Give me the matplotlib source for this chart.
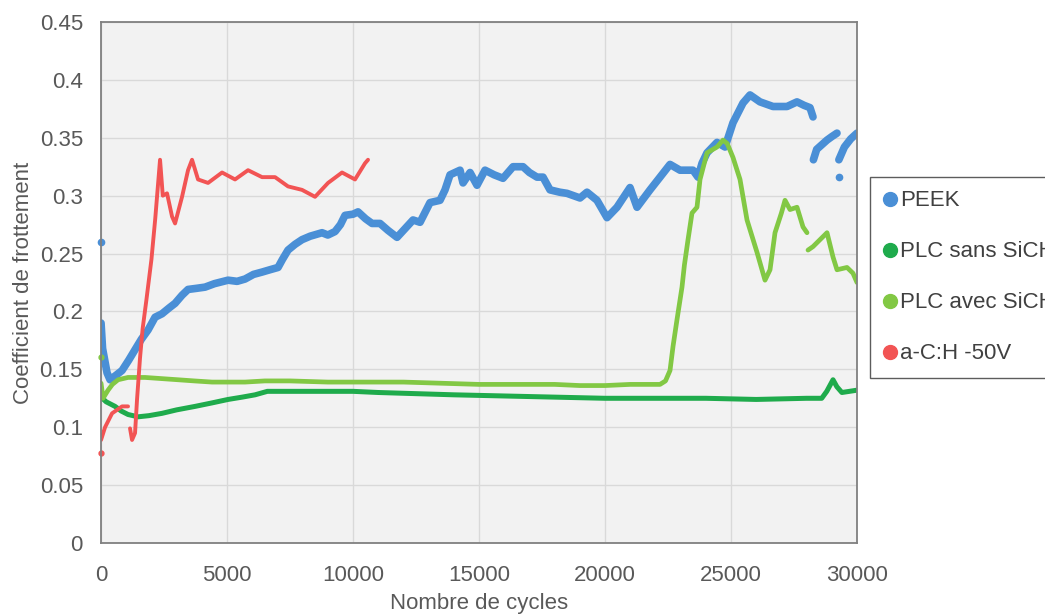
import numpy as np
import matplotlib
matplotlib.use("Agg")
import matplotlib.pyplot as plt
from matplotlib.lines import Line2D

nan = np.nan

# PEEK
peek_x = [0, 60, 238, 357, 600, 833, 1100, 1349, 1600, 1865, 2143, 2420, 2700, 2937, 3214, 3452,
          3800, 4127, 4500, 5040, 5400, 5714, 6050, 6389, 6700, 7024, 7200, 7420, 7700, 7976, 8300,
          8770, 9000, 9286, 9500, 9682, 10000, 10198, 10500, 10754, 11071, 11389, 11746, 12000,
          12381, 12659, 13055, 13452, 13650, 13849, 14246, 14365, 14643, 14920, 15238, 15600,
          15952, 16349, 16746, 17000, 17301, 17539, 17817, 18200, 18491, 19007, 19285, 19682,
          20079, 20476, 20992, 21270, 21786, 22183, 22579, 22976, 23492, 23690, 23850, 24048,
          24444, 24762, 25079, 25476, 25754, 26150, 26667, 27222, 27619, 27900, 28135, 28254,
          28260, 28270, 28400, 28810, 29000, 29206, 29250, 29280, 29500, 29750, 30000]
peek_y = [0.19, 0.168, 0.147, 0.141, 0.145, 0.149, 0.158, 0.167, 0.176, 0.184, 0.195, 0.198, 0.203,
          0.207, 0.214, 0.219, 0.220, 0.221, 0.224, 0.227, 0.226, 0.228, 0.232, 0.234, 0.236, 0.238,
          0.245, 0.253, 0.258, 0.262, 0.265, 0.268, 0.266, 0.269, 0.275, 0.283, 0.284, 0.286, 0.280,
          0.276, 0.276, 0.270, 0.264, 0.270, 0.279, 0.277, 0.294, 0.296, 0.305, 0.318, 0.322, 0.311,
          0.320, 0.309, 0.322, 0.318, 0.315, 0.325, 0.325, 0.320, 0.316, 0.316, 0.305, 0.303, 0.302,
          0.298, 0.303, 0.296, 0.281, 0.290, 0.307, 0.290, 0.305, 0.316, 0.327, 0.322, 0.322, 0.316,
          0.328, 0.337, 0.346, 0.342, 0.363, 0.380, 0.387, 0.381, 0.377, 0.377, 0.381, 0.378, 0.376,
          0.368, nan, 0.331, 0.340, 0.348, 0.351, 0.354, nan, 0.331, 0.342, 0.349, 0.354]
peek_out_x = [0, 29300]
peek_out_y = [0.26, 0.316]

# PLC sans SiCH
sans_x = [0, 200, 556, 800, 1071, 1468, 1900, 2420, 3000, 3730, 4400, 5040, 5600, 6111, 6600, 8000,
          10000, 11000, 12500, 14000, 16000, 18000, 20000, 22000, 24000, 26000, 28000, 28600,
          28800, 29048, 29200, 29400, 29700, 30000]
sans_y = [0.126, 0.122, 0.118, 0.114, 0.111, 0.109, 0.110, 0.112, 0.115, 0.118, 0.121, 0.124, 0.126,
          0.128, 0.131, 0.131, 0.131, 0.130, 0.129, 0.128, 0.127, 0.126, 0.125, 0.125, 0.125, 0.124,
          0.125, 0.125, 0.131, 0.141, 0.135, 0.130, 0.131, 0.132]

# PLC avec SiCH
avec_x = [0, 79, 278, 450, 675, 1071, 1746, 2400, 3055, 3700, 4405, 5714, 6500, 7500, 9000, 10500,
          12000, 13500, 15000, 16500, 18000, 19000, 20000, 21000, 22183, 22400, 22579, 22700, 22857,
          23055, 23150, 23294, 23452, 23650, 23770, 24048, 24444, 24682, 24850, 25079, 25357, 25635,
          26032, 26349, 26548, 26746, 27000, 27143, 27341, 27619, 27857, 28016, 28030, 28056, 28254,
          28532, 28810, 29048, 29206, 29603, 29841, 30000]
avec_y = [0.138, 0.125, 0.132, 0.137, 0.141, 0.143, 0.143, 0.142, 0.141, 0.140, 0.139, 0.139, 0.140,
          0.140, 0.139, 0.139, 0.139, 0.138, 0.137, 0.137, 0.137, 0.136, 0.136, 0.137, 0.137, 0.140,
          0.149, 0.170, 0.193, 0.221, 0.240, 0.262, 0.285, 0.290, 0.314, 0.337, 0.342, 0.348, 0.345,
          0.333, 0.314, 0.279, 0.251, 0.227, 0.236, 0.268, 0.285, 0.296, 0.288, 0.290, 0.273, 0.268,
          nan, 0.253, 0.256, 0.262, 0.268, 0.247, 0.236, 0.238, 0.233, 0.225]
avec_out_x = [0]
avec_out_y = [0.161]

# a-C:H -50V
ach_x = [0, 159, 437, 833, 1071, 1110, 1150, 1230, 1349, 1428, 1547, 1650, 1800, 2000, 2150, 2341,
         2450, 2619, 2817, 2937, 3214, 3452, 3611, 3849, 4246, 4802, 5317, 5833, 6389, 6905, 7420,
         7976, 8492, 9008, 9563, 10079, 10476, 10595]
ach_y = [0.089, 0.100, 0.112, 0.118, 0.118, nan, 0.099, 0.089, 0.095, 0.124, 0.160, 0.185, 0.210,
         0.245, 0.280, 0.331, 0.300, 0.302, 0.282, 0.276, 0.299, 0.322, 0.331, 0.314, 0.311, 0.320,
         0.314, 0.322, 0.316, 0.316, 0.308, 0.305, 0.299, 0.311, 0.320, 0.314, 0.328, 0.331]
ach_out_x = [0]
ach_out_y = [0.078]

labels = ["PEEK", "PLC sans SiCH", "PLC avec SiCH", "a-C:H -50V"]
colors = ["#4a8fd6", "#1fab4c", "#82c844", "#f25454"]

xticks = [0, 5000, 10000, 15000, 20000, 25000, 30000]
yticks = [0, 0.05, 0.1, 0.15, 0.2, 0.25, 0.3, 0.35, 0.4, 0.45]
ytick_labels = ["0", "0.05", "0.1", "0.15", "0.2", "0.25", "0.3", "0.35", "0.4", "0.45"]

plt.rcParams['font.family'] = ['Liberation Sans', 'DejaVu Sans']

fig = plt.figure(figsize=(10.45, 6.14), dpi=100)
ax = fig.add_axes([0.0967, 0.1156, 0.7234, 0.8486])
ax.set_facecolor("#f2f2f2")

# order: PEEK underneath, red on top (as in the reference)
ax.plot(peek_x, peek_y, color=colors[0], lw=5.5, solid_capstyle='round', solid_joinstyle='round')
ax.plot(sans_x, sans_y, color=colors[1], lw=3.6, solid_capstyle='round', solid_joinstyle='round')
ax.plot(avec_x, avec_y, color=colors[2], lw=3.4, solid_capstyle='round', solid_joinstyle='round')
ax.plot(ach_x, ach_y, color=colors[3], lw=2.8, solid_capstyle='round', solid_joinstyle='round')
ax.plot(peek_out_x, peek_out_y, 'o', color=colors[0], ms=4.5, clip_on=False)
ax.plot(avec_out_x, avec_out_y, 'o', color=colors[2], ms=3.5, clip_on=False)
ax.plot(ach_out_x, ach_out_y, 'o', color=colors[3], ms=3.5, clip_on=False)

ax.set_xlim(0, 30000)
ax.set_ylim(0, 0.45)
ax.set_xticks(xticks)
ax.set_xticklabels([str(t) for t in xticks])
ax.set_yticks(yticks)
ax.set_yticklabels(ytick_labels)
ax.grid(True, color="#d9d9d9", lw=1)
ax.set_axisbelow(True)
ax.tick_params(length=0, labelsize=16, labelcolor="#595959")
ax.tick_params(axis='y', pad=13)
ax.tick_params(axis='x', pad=16)
for s in ax.spines.values():
    s.set_color("#808080")
    s.set_linewidth(1.3)

ax.set_xlabel("Nombre de cycles", fontsize=16, color="#595959", labelpad=5)
ax.set_ylabel("Coefficient de frottement", fontsize=16, color="#595959", labelpad=4)

handles = [Line2D([], [], ls='none', marker='o', ms=10, color=c) for c in colors]
leg = fig.legend(handles, labels, loc='upper left', bbox_to_anchor=(0.8325, 0.7117),
                 frameon=True, fancybox=False, fontsize=16, handlelength=0.6,
                 handletextpad=0.15, labelspacing=1.35, borderpad=0.6, borderaxespad=0)
leg.get_frame().set_edgecolor("#333333")
leg.get_frame().set_linewidth(1.0)
for t in leg.get_texts():
    t.set_color("#404040")

fig.savefig("out.png", dpi=100)
